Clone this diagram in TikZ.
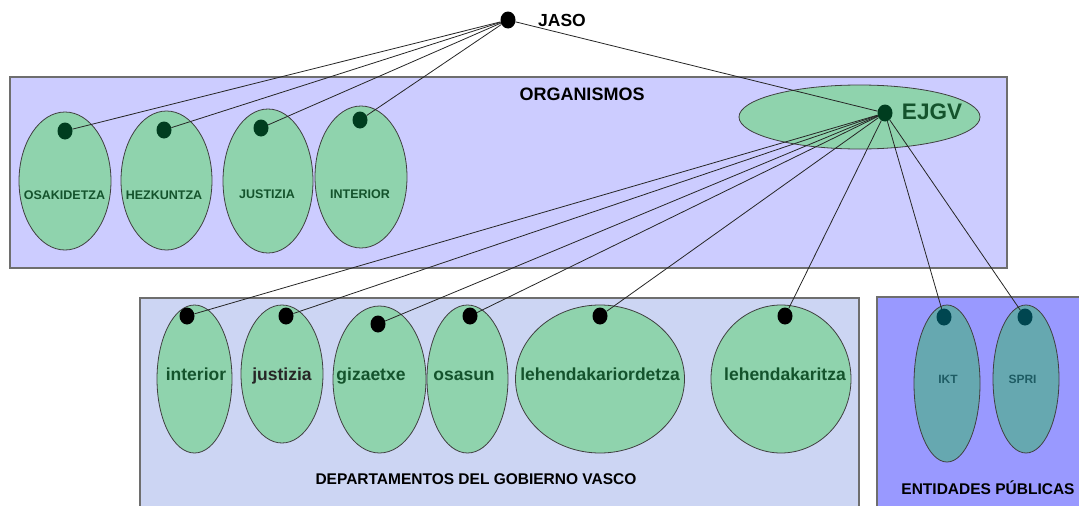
\documentclass[tikz,border=0pt]{standalone}
\usepackage{fontspec}
\setmainfont{Liberation Sans}
\usepackage{xcolor}
\usepackage{tikz}
\usetikzlibrary{shapes.geometric}
\definecolor{orgfill}{HTML}{CCCCFF}
\definecolor{deptfill}{HTML}{CCD5F3}
\definecolor{entfill}{HTML}{9999FF}
\definecolor{leaf}{HTML}{8FD3AD}
\definecolor{sea}{HTML}{66A8B0}
\definecolor{darkleaf}{HTML}{003D1F}
\definecolor{darksea}{HTML}{004650}
\definecolor{leaftext}{HTML}{14532C}
\definecolor{seatext}{HTML}{1E5C64}
\definecolor{frame}{HTML}{6E6E6E}
\tikzstyle{group} = [draw=frame, 
line width=1.5pt]
\tikzstyle{bubble} = [ellipse, 
draw=black!75, 
line width=0.8pt, 
fill=leaf, 
inner sep=0pt]
\tikzstyle{tealbubble} = [bubble, fill=sea]
\tikzstyle{dot} = [ellipse, 
fill=black, 
inner sep=0pt, 
minimum width=15pt, 
minimum height=17pt]
\tikzstyle{title} = [font=\bfseries\fontsize{15.5}{16}\selectfont, 
anchor=base]
\tikzstyle{orgtext} = [font=\bfseries\fontsize{12.5}{13}\selectfont, 
text=leaftext, 
anchor=base]
\tikzstyle{depttext} = [font=\bfseries\fontsize{17.5}{18}\selectfont, 
text=leaftext, 
anchor=base]
\tikzstyle{enttext} = [font=\bfseries\fontsize{12}{13}\selectfont, 
text=seatext, 
anchor=base]
\tikzstyle{link} = [draw=black!85, line width=0.8pt]

\begin{document}
\begin{tikzpicture}[x=1pt, y=-1pt]
\useasboundingbox (0,0) rectangle (1079,506);

% the three groups
\draw [group, fill=orgfill] (10,77) rectangle (1007,268);
\draw [group, fill=deptfill] (140,298) rectangle (859,512);
\draw [group, fill=entfill] (877,297) rectangle (1090,512);

\node (organismos_txt) [title, font=\bfseries\fontsize{18}{18}\selectfont] at (582,100) {ORGANISMOS};
\node (departamentos_txt) [title] at (476,484) {DEPARTAMENTOS DEL GOBIERNO VASCO};
\node (entidades_txt) [title] at (988,494) {ENTIDADES PÚBLICAS};

% organismos
\node (osakidetza) [bubble, minimum width=92pt, minimum height=138pt] at (65,181) {};
\node (hezkuntza) [bubble, minimum width=91pt, minimum height=139pt] at (166.5,180.5) {};
\node (justizia) [bubble, minimum width=90pt, minimum height=144pt] at (268,181) {};
\node (interior) [bubble, minimum width=92pt, minimum height=142pt] at (361,177) {};
\node (ejgv) [bubble, minimum width=241pt, minimum height=64pt] at (859.5,117) {};

\node (osakidetza_txt) [orgtext] at (64.5,199) {OSAKIDETZA};
\node (hezkuntza_txt) [orgtext] at (164,199) {HEZKUNTZA};
\node (justizia_txt) [orgtext] at (267,198) {JUSTIZIA};
\node (interior_txt) [orgtext] at (360,198) {INTERIOR};
\node (ejgv_txt) [depttext, font=\bfseries\fontsize{22.5}{23}\selectfont] at (932,119) {EJGV};

% departamentos
\node (d_interior) [bubble, minimum width=75pt, minimum height=148pt] at (194.5,379) {};
\node (d_justizia) [bubble, minimum width=82pt, minimum height=138pt] at (282,374) {};
\node (d_gizaetxe) [bubble, minimum width=93pt, minimum height=147pt] at (379.5,379.5) {};
\node (d_osasun) [bubble, minimum width=81pt, minimum height=148pt] at (467.5,379) {};
\node (d_lehendakariordetza) [bubble, minimum width=169pt, minimum height=148pt] at (600,379) {};
\node (d_lehendakaritza) [bubble, minimum width=140pt, minimum height=148pt] at (781,379) {};

\node (d_interior_txt) [depttext] at (196,380) {interior};
\node (d_justizia_txt) [depttext, text=black!85] at (282,380) {justizia};
\node (d_gizaetxe_txt) [depttext] at (371,380) {gizaetxe};
\node (d_osasun_txt) [depttext] at (464,380) {osasun};
\node (d_lehendakariordetza_txt) [depttext] at (600,380) {lehendakariordetza};
\node (d_lehendakaritza_txt) [depttext] at (785,380) {lehendakaritza};

% entidades publicas
\node (ikt) [tealbubble, minimum width=66pt, minimum height=157pt] at (947,383.5) {};
\node (spri) [tealbubble, minimum width=66pt, minimum height=148pt] at (1026,379) {};
\node (ikt_txt) [enttext] at (948,383) {IKT};
\node (spri_txt) [enttext] at (1022.5,383) {SPRI};

% dots
\node (jaso) [dot] at (508,20) {};
\node (jaso_txt) [title, font=\bfseries\fontsize{17.5}{18}\selectfont] at (562,26) {JASO};
\node (osakidetza_dot) [dot, fill=darkleaf] at (65,131) {};
\node (hezkuntza_dot) [dot, fill=darkleaf] at (164,130) {};
\node (justizia_dot) [dot, fill=darkleaf] at (261,128) {};
\node (interior_dot) [dot, fill=darkleaf] at (360,120) {};
\node (ejgv_dot) [dot, fill=darkleaf] at (885,113) {};
\node (d_interior_dot) [dot] at (187,316) {};
\node (d_justizia_dot) [dot] at (286,316) {};
\node (d_gizaetxe_dot) [dot] at (378,324) {};
\node (d_osasun_dot) [dot] at (470,316) {};
\node (d_lehendakariordetza_dot) [dot] at (600,316) {};
\node (d_lehendakaritza_dot) [dot] at (785,316) {};
\node (ikt_dot) [dot, fill=darksea] at (944,317) {};
\node (spri_dot) [dot, fill=darksea] at (1025,317) {};

\draw [link] (jaso) -- (osakidetza_dot);
\draw [link] (jaso) -- (hezkuntza_dot);
\draw [link] (jaso) -- (justizia_dot);
\draw [link] (jaso) -- (interior_dot);
\draw [link] (jaso) -- (ejgv_dot);

\draw [link] (ejgv_dot) -- (d_interior_dot);
\draw [link] (ejgv_dot) -- (d_justizia_dot);
\draw [link] (ejgv_dot) -- (d_gizaetxe_dot);
\draw [link] (ejgv_dot) -- (d_osasun_dot);
\draw [link] (ejgv_dot) -- (d_lehendakariordetza_dot);
\draw [link] (ejgv_dot) -- (d_lehendakaritza_dot);
\draw [link] (ejgv_dot) -- (ikt_dot);
\draw [link] (ejgv_dot) -- (spri_dot);

\end{tikzpicture}
\end{document}
